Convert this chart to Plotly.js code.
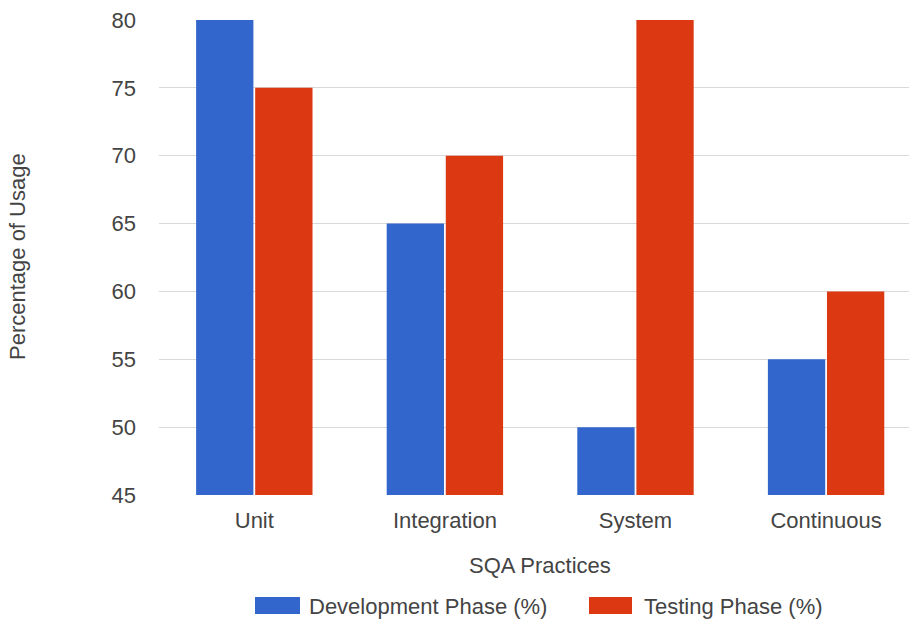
<!DOCTYPE html>
<html><head><meta charset="utf-8">
<script src="https://cdn.plot.ly/plotly-3.0.1.min.js"></script>
<style>html,body{margin:0;padding:0;background:#fff}</style>
</head><body>
<div id="chart" style="width:909px;height:621px"></div>
<script>
const categories = ["Unit", "Integration", "System", "Continuous"];
const devValues = [80, 65, 50, 55];
const testValues = [75, 70, 80, 60];
const seriesNames = ["Development Phase (%)", "Testing Phase (%)"];
const yTicks = [45, 50, 55, 60, 65, 70, 75, 80];

const blue = "#3366CC", red = "#DC3912";
const font = "Liberation Sans, Arial, sans-serif";
const fs = 22;
const traces = [
  {type: "bar", name: seriesNames[0], x: categories, y: devValues, marker: {color: blue}, showlegend: false},
  {type: "bar", name: seriesNames[1], x: categories, y: testValues, marker: {color: red}, showlegend: false}
];
const W = 750, H = 475, L = 159, T = 20;
const px = x => (x - L) / W;
const py = y => (T + H - y) / H;
const layout = {
  width: 909, height: 621,
  margin: {l: L, r: 0, t: T, b: 126},
  barmode: "group", bargap: 0.38, bargroupgap: 0.03,
  paper_bgcolor: "#fff", plot_bgcolor: "#fff",
  font: {family: font, size: fs, color: "#444"},
  xaxis: {range: [-0.5, 3.435], showgrid: false, zeroline: false, showline: false, ticks: "",
          ticklabelstandoff: 10, tickfont: {size: fs, color: "#444"}},
  yaxis: {range: [45, 80], tickvals: yTicks, showgrid: true, gridcolor: "#d9d9d9", gridwidth: 1,
          zeroline: false, showline: false, ticks: "", ticklabelstandoff: 22,
          tickfont: {size: fs, color: "#444"}},
  shapes: [
    {type: "rect", xref: "paper", yref: "paper", x0: px(255), x1: px(300), y0: py(614), y1: py(597), fillcolor: blue, line: {width: 0}},
    {type: "rect", xref: "paper", yref: "paper", x0: px(589), x1: px(632), y0: py(614), y1: py(597), fillcolor: red, line: {width: 0}}
  ],
  annotations: [
    {xref: "paper", yref: "paper", x: px(307), y: py(606), xanchor: "left", yanchor: "middle",
     text: seriesNames[0], showarrow: false, font: {size: fs, color: "#444"}},
    {xref: "paper", yref: "paper", x: px(642), y: py(606), xanchor: "left", yanchor: "middle",
     text: seriesNames[1], showarrow: false, font: {size: fs, color: "#444"}},
    {xref: "paper", yref: "paper", x: px(540), y: py(565), xanchor: "center", yanchor: "middle",
     text: "SQA Practices", showarrow: false, font: {size: fs, color: "#444"}},
    {xref: "paper", yref: "paper", x: px(17), y: py(257), xanchor: "center", yanchor: "middle", textangle: -90,
     text: "Percentage of Usage", showarrow: false, font: {size: fs, color: "#444"}}
  ]
};
Plotly.newPlot("chart", traces, layout, {displayModeBar: false, staticPlot: true});
</script>
</body></html>
